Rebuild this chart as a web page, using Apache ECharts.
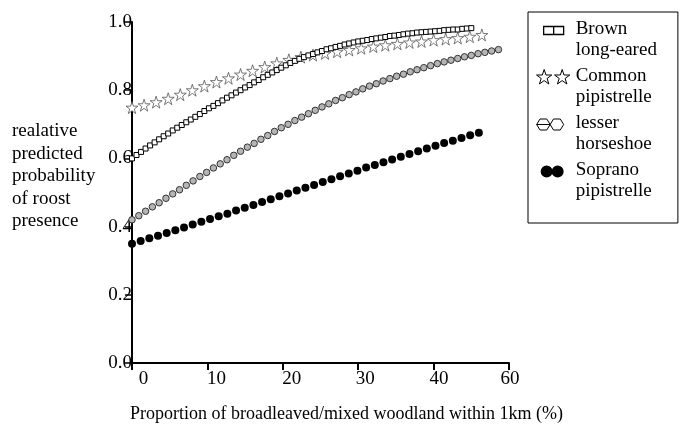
<!DOCTYPE html>
<html>
<head>
<meta charset="utf-8">
<script src="https://cdn.jsdelivr.net/npm/echarts@6/dist/echarts.min.js"></script>
<style>html,body{margin:0;padding:0;background:#fff}#c{width:688px;height:426px}</style>
</head>
<body>
<div id="c"></div>
<script>
// ---- data ----
var seriesNames = ['Brown long-eared', 'Common pipistrelle', 'lesser horseshoe', 'Soprano pipistrelle'];
var xTickLabels = ['0', '10', '20', '30', '40', '60'];
var yTickLabels = ['0.0', '0.2', '0.4', '0.6', '0.8', '1.0'];
var xAxisTitle = 'Proportion of broadleaved/mixed woodland within 1km (%)';
var yAxisTitleLines = ['realative', 'predicted', 'probability', 'of roost', 'presence'];

var brownX = [0,0.6,1.2,1.8,2.4,3,3.6,4.2,4.8,5.4,6,6.6,7.2,7.8,8.4,9,9.6,10.2,10.8,11.4,12,12.6,13.2,13.8,14.4,15,15.6,16.2,16.8,17.4,18,18.6,19.2,19.8,20.4,21,21.6,22.2,22.8,23.4,24,24.6,25.2,25.8,26.4,27,27.6,28.2,28.8,29.4,30,30.6,31.2,31.8,32.4,33,33.6,34.2,34.8,35.4,36,36.6,37.2,37.8,38.4,39,39.6,40.2,40.8,41.4,42,42.6,43.2,43.8,44.4,45];
var brownY = [0.600,0.610,0.619,0.629,0.638,0.647,0.656,0.665,0.673,0.682,
  0.690,0.698,0.706,0.714,0.722,0.730,0.739,0.747,0.754,0.762,
  0.770,0.778,0.785,0.793,0.800,0.808,0.815,0.823,0.830,0.838,
  0.845,0.852,0.859,0.866,0.873,0.880,0.886,0.892,0.897,0.902,
  0.906,0.911,0.915,0.920,0.923,0.927,0.930,0.934,0.937,0.940,
  0.943,0.945,0.947,0.950,0.952,0.954,0.956,0.959,0.960,0.962,
  0.964,0.966,0.967,0.969,0.970,0.971,0.972,0.973,0.974,0.976,
  0.977,0.978,0.978,0.980,0.981,0.982];

var commonX = [0,1.6,3.2,4.8,6.4,8,9.6,11.2,12.8,14.4,16,17.6,19.2,20.8,22.4,24,25.6,27.2,28.8,30.4,32,33.6,35.2,36.8,38.4,40,41.6,43.2,44.8,46.4];
var commonY = [0.749,0.756,0.765,0.775,0.787,0.800,0.812,0.824,0.835,0.846,
  0.857,0.868,0.879,0.889,0.897,0.903,0.908,0.913,0.918,0.923,
  0.928,0.932,0.936,0.940,0.943,0.947,0.950,0.953,0.957,0.962];

var lesserX = [0,0.9,1.8,2.7,3.6,4.5,5.4,6.3,7.2,8.1,9,9.9,10.8,11.7,12.6,13.5,14.4,15.3,16.2,17.1,18,18.9,19.8,20.7,21.6,22.5,23.4,24.3,25.2,26.1,27,27.9,28.8,29.7,30.6,31.5,32.4,33.3,34.2,35.1,36,36.9,37.8,38.7,39.6,40.5,41.4,42.3,43.2,44.1,45,45.9,46.8,47.7,48.6];
var lesserY = [0.420,0.432,0.445,0.458,0.470,0.483,0.496,0.508,0.521,0.534,
  0.547,0.559,0.572,0.584,0.596,0.609,0.621,0.633,0.644,0.656,
  0.667,0.679,0.690,0.700,0.711,0.721,0.731,0.741,0.751,0.760,
  0.770,0.778,0.787,0.795,0.804,0.812,0.819,0.827,0.834,0.841,
  0.847,0.854,0.860,0.866,0.872,0.878,0.883,0.888,0.893,0.898,
  0.902,0.907,0.911,0.915,0.919];

var sopranoX = [0,1.15,2.3,3.45,4.6,5.75,6.9,8.05,9.2,10.35,11.5,12.65,13.8,14.95,16.1,17.25,18.4,19.55,20.7,21.85,23,24.15,25.3,26.45,27.6,28.75,29.9,31.05,32.2,33.35,34.5,35.65,36.8,37.95,39.1,40.25,41.4,42.55,43.7,44.85,46];
var sopranoY = [0.350,0.358,0.366,0.373,0.381,0.389,0.397,0.406,0.414,0.422,
  0.430,0.438,0.447,0.455,0.463,0.472,0.480,0.489,0.497,0.506,
  0.514,0.522,0.531,0.539,0.548,0.556,0.564,0.573,0.581,0.589,
  0.597,0.605,0.613,0.621,0.629,0.637,0.645,0.652,0.660,0.668,0.675];

// ---- styling ----
var FONT = "'Liberation Serif','Times New Roman',serif";
var xLabelShift = [23, 18, 18, 14, 11, 2];
var starPath = 'path://M0,-100L22.45,-30.9L95.11,-30.9L36.33,11.8L58.78,80.9L0,38.2L-58.78,80.9L-36.33,11.8L-95.11,-30.9L-22.45,-30.9Z';
var FRAME = 'M0,0M38,40';
var iconBrown = 'path://' + FRAME + 'M11,7H21V15H11ZM21,7H31V15H21Z';
var iconCommon = 'path://' + FRAME +
  'M11.5,3L13.32,8.49L19.11,8.53L14.45,11.96L16.2,17.47L11.5,14.1L6.8,17.47L8.55,11.96L3.89,8.53L9.68,8.49Z' +
  'M29.5,3L31.32,8.49L37.11,8.53L32.45,11.96L34.2,17.47L29.5,14.1L24.8,17.47L26.55,11.96L21.89,8.53L27.68,8.49Z';
var iconLesser = 'path://' + FRAME +
  'M4,11L7.375,5.5L14.125,5.5L17.5,11L14.125,16.5L7.375,16.5ZM4,11H17.5' +
  'M17.5,11L20.875,5.5L27.625,5.5L31,11L27.625,16.5L20.875,16.5Z';
var iconSoprano = 'path://' + FRAME +
  'M8,11a6,6 0 1,0 12,0a6,6 0 1,0 -12,0ZM19,11a6,6 0 1,0 12,0a6,6 0 1,0 -12,0Z';

function pairs(xs, ys) { return xs.map(function (x, i) { return [x, ys[i]]; }); }

var rich = {};
xLabelShift.forEach(function (p, i) {
  rich['l' + i] = { fontFamily: FONT, fontSize: 19, color: '#000', padding: [0, 0, 0, p] };
});

var chart = echarts.init(document.getElementById('c'), null, { renderer: 'canvas' });
chart.setOption({
  animation: false,
  backgroundColor: '#fff',
  grid: { left: 132, right: 179, top: 22, bottom: 63, containLabel: false, outerBoundsMode: 'none' },
  xAxis: {
    type: 'value', min: 0, max: 50, interval: 10,
    name: xAxisTitle, nameLocation: 'middle', nameGap: 42, nameMoveOverlap: false,
    nameTextStyle: { fontFamily: FONT, fontSize: 18, color: '#000', padding: [0, 0, 0, 52] },
    axisLine: { show: true, onZero: false, lineStyle: { color: '#000', width: 2 } },
    axisTick: { show: true, inside: false, length: 7, lineStyle: { color: '#000', width: 2 } },
    axisLabel: {
      margin: 7, fontFamily: FONT, fontSize: 19, color: '#000', rich: rich,
      formatter: function (v) { var i = Math.round(v / 10); return '{l' + i + '|' + xTickLabels[i] + '}'; }
    },
    splitLine: { show: false }
  },
  yAxis: {
    type: 'value', min: 0, max: 1, interval: 0.2,
    name: yAxisTitleLines.join('\n') + '\n{g| }', nameLocation: 'middle', nameRotate: 0, nameGap: 120,
    nameMoveOverlap: false,
    nameTextStyle: {
      fontFamily: FONT, fontSize: 19, color: '#000', align: 'left', lineHeight: 22.5,
      rich: { g: { fontSize: 19, lineHeight: 32 } }
    },
    axisLine: { show: true, onZero: false, lineStyle: { color: '#000', width: 2 } },
    axisTick: { show: true, inside: false, length: 7, lineStyle: { color: '#000', width: 1.5 } },
    axisLabel: {
      margin: 0, fontFamily: FONT, fontSize: 19, color: '#000',
      formatter: function (v) { return yTickLabels[Math.round(v * 5)]; }
    },
    splitLine: { show: false }
  },
  legend: {
    orient: 'vertical', left: 528, top: 12,
    padding: [6, 21, 21, 4],
    borderColor: '#000', borderWidth: 1, backgroundColor: '#fff',
    itemWidth: 38, itemHeight: 40, itemGap: 4,
    selectedMode: false,
    textStyle: { fontFamily: FONT, fontSize: 19, color: '#000', lineHeight: 21.5 },
    formatter: function (name) { return name.replace(' ', '\n'); },
    data: [
      { name: seriesNames[0], icon: iconBrown, itemStyle: { color: '#fff', borderColor: '#000', borderWidth: 1.3 } },
      { name: seriesNames[1], icon: iconCommon, itemStyle: { color: '#fff', borderColor: '#000', borderWidth: 1 } },
      { name: seriesNames[2], icon: iconLesser, itemStyle: { color: '#fff', borderColor: '#000', borderWidth: 1 } },
      { name: seriesNames[3], icon: iconSoprano, itemStyle: { color: '#000', borderColor: '#000', borderWidth: 0 } }
    ]
  },
  series: [
    {
      name: seriesNames[1], type: 'scatter', data: pairs(commonX, commonY),
      symbol: starPath, symbolSize: 12, silent: true, z: 2,
      itemStyle: { color: '#fff', borderColor: '#555', borderWidth: 0.8, opacity: 1 }
    },
    {
      name: seriesNames[0], type: 'scatter', data: pairs(brownX, brownY),
      symbol: 'rect', symbolSize: 5, silent: true, z: 3,
      itemStyle: { color: '#fff', borderColor: '#000', borderWidth: 1, opacity: 1 }
    },
    {
      name: seriesNames[2], type: 'scatter', data: pairs(lesserX, lesserY),
      symbol: 'circle', symbolSize: 6.5, silent: true, z: 2,
      itemStyle: { color: '#b5b5b5', borderColor: '#333', borderWidth: 1, opacity: 1 }
    },
    {
      name: seriesNames[3], type: 'scatter', data: pairs(sopranoX, sopranoY),
      symbol: 'circle', symbolSize: 8, silent: true, z: 2,
      itemStyle: { color: '#000', borderWidth: 0, opacity: 1 }
    }
  ]
});
</script>
</body>
</html>
